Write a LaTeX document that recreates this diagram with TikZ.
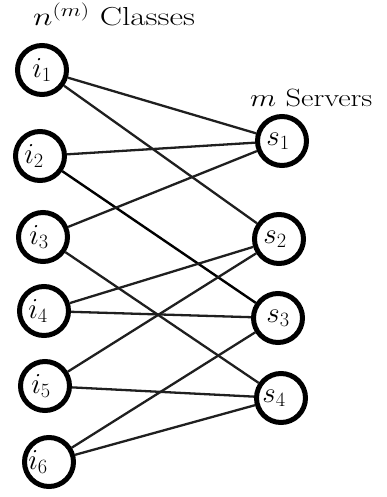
\RequirePackage{fix-cm}
\documentclass[tikz,border=0pt]{standalone}
\usepackage{graphicx}
\begin{document}
\begin{tikzpicture}[x=1pt,y=-1pt,
  cnode/.style={circle,draw=black,line width=5pt,minimum size=49pt,inner sep=0pt,font=\fontsize{29}{33}\selectfont},
  edge/.style={line width=2.3pt,draw=black!88},
  title/.style={inner sep=0pt,anchor=base west}]
\useasboundingbox (0,0) rectangle (386,497);
\node[title,font=\fontsize{26}{30}\selectfont] (tl) at (33,26) {\scalebox{1.28}[1]{$n^{(m)}$ Classes}};
\node[title,font=\fontsize{25}{30}\selectfont] (tr) at (250,107) {\scalebox{1.22}[1]{$m$ Servers}};
\node[cnode] (i1) at (42,70) {$i_1$};
\node[cnode] (i2) at (40,156) {\kern-12pt$i_2$};
\node[cnode] (i3) at (43,237) {\kern-8pt$i_3$};
\node[cnode] (i4) at (44,311) {\kern-12pt$i_4$};
\node[cnode] (i5) at (45,386) {\kern-8pt$i_5$};
\node[cnode] (i6) at (49,462) {\kern-22pt\raisebox{-3pt}{$i_6$}};
\node[cnode] (s1) at (282,141) {\kern-8pt$s_1$};
\node[cnode] (s2) at (279,239) {\kern-8pt$s_2$};
\node[cnode] (s3) at (278,318) {$s_3$};
\node[cnode] (s4) at (281,398) {\kern-14pt$s_4$};
\draw[edge] (i1) -- (s1);
\draw[edge] (i1) -- (s2);
\draw[edge] (i2) -- (s1);
\draw[edge,line width=2.4pt,draw=black] (i2) -- (s3);
\draw[edge] (i3) -- (s1);
\draw[edge] (i3) -- (s4);
\draw[edge] (i4) -- (s2);
\draw[edge] (i4) -- (s3);
\draw[edge] (i5) -- (s2);
\draw[edge] (i5) -- (s4);
\draw[edge] (i6) -- (s3);
\draw[edge] (i6) -- (s4);
\end{tikzpicture}
\end{document}
